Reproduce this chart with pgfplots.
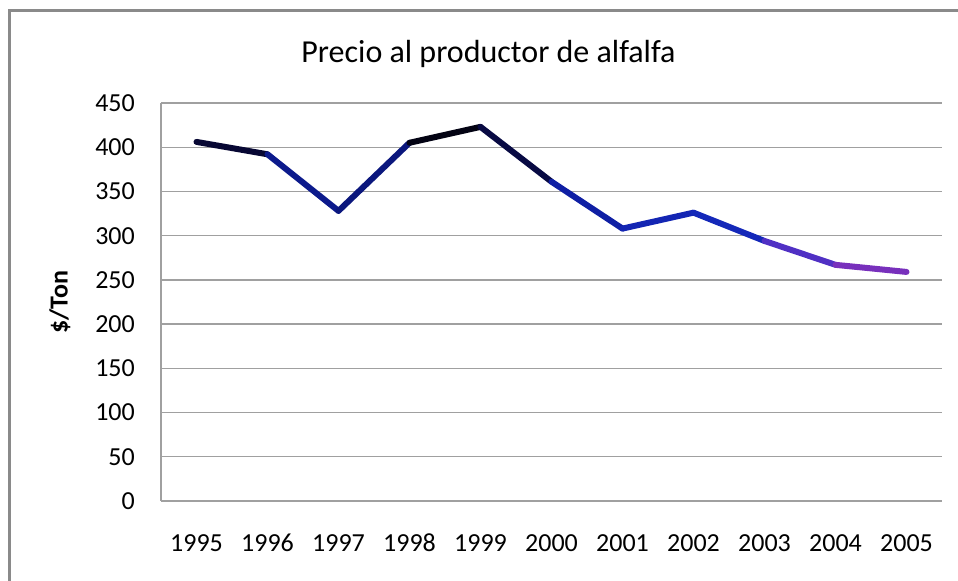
\documentclass[border=0pt]{standalone}
\usepackage{fontspec}
\setmainfont{Carlito}
\usepackage{pgfplots}
\pgfplotsset{compat=1.18}
\definecolor{gridgray}{HTML}{A0A0A0}
\definecolor{framegray}{HTML}{8A8A8A}

\begin{document}
\begin{tikzpicture}[x=1bp,y=1bp]
  \path[use as bounding box] (0,0) rectangle (958,581);
  % chart frame (only left and top edges are inside the picture)
  \draw[framegray, line width=2.8bp] (9.5,-3) -- (9.5,570.7) -- (961,570.7);
  \node[font=\fontsize{32bp}{37bp}\selectfont, anchor=base] at (488.5,518) {Precio al productor de alfalfa};
  \begin{axis}[
      at={(161bp,80bp)}, anchor=south west,
      scale only axis, width=781bp, height=398bp,
      xmin=-0.5, xmax=10.5, ymin=0, ymax=450,
      xtick={0,...,10},
      xticklabels={1995,1996,1997,1998,1999,2000,2001,2002,2003,2004,2005},
      ytick={0,50,...,450},
      axis x line*=bottom, axis y line*=left,
      major tick length=0pt,
      ymajorgrids, grid style={gridgray, line width=1.3bp},
      axis line style={gridgray, line width=1.3bp},
      tick label style={font=\fontsize{26bp}{31bp}\selectfont, text=black},
      xticklabel style={inner sep=0pt, anchor=north, yshift=-33.5bp,
        text height=17bp, text depth=0pt},
      yticklabel style={inner sep=0pt, anchor=east, xshift=-26bp},
      /pgf/number format/assume math mode=true,
      clip=false,
      colormap={alf}{rgb255(0pt)=(128,48,184); rgb255(8pt)=(112,48,192);
        rgb255(35pt)=(48,48,200); rgb255(51pt)=(20,40,185); rgb255(71pt)=(16,32,168);
        rgb255(101pt)=(12,26,140); rgb255(136pt)=(8,8,60); rgb255(164pt)=(0,0,0)},
      point meta min=259, point meta max=423,
    ]
    \addplot[mesh, point meta=y, line width=6bp, line cap=round, line join=round] coordinates {
      (0,406) (1,392) (2,328) (3,405) (4,423) (5,361)
      (6,308) (7,326) (8,294) (9,267) (10,259)
    };
    \node[rotate=90, font=\bfseries\fontsize{26bp}{31bp}\selectfont]
      at ([xshift=-101bp]axis description cs:0,0.5) {\$/Ton};
  \end{axis}
\end{tikzpicture}
\end{document}
